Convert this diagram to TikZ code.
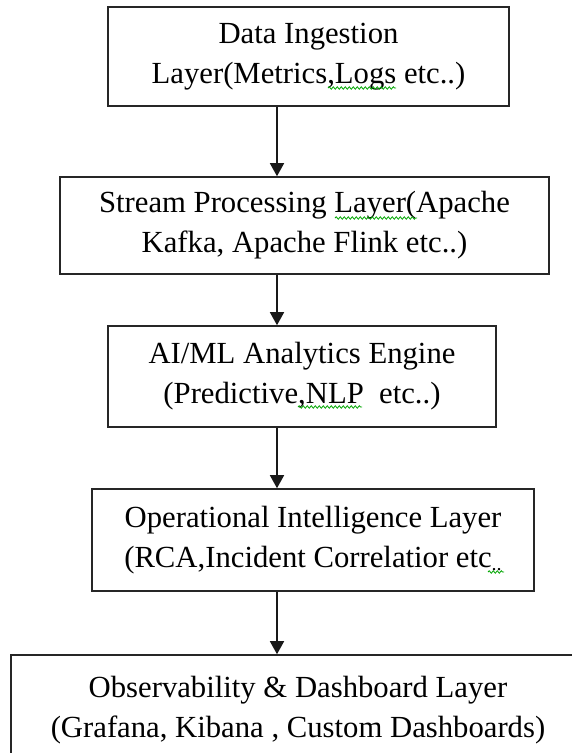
\documentclass[tikz,border=0pt]{standalone}
\usepackage{fontspec}
\setmainfont{Liberation Serif}
\usetikzlibrary{arrows.meta,decorations.pathmorphing}
\begin{document}
\begin{tikzpicture}[x=1pt,y=-1pt,
  layerbox/.style={draw=black!85, line width=1.6pt, inner sep=0pt, align=center,
     font=\fontsize{30.7}{40}\selectfont, text=black},
  flow/.style={draw=black!90, line width=1.5pt, -{Triangle[width=14pt,length=13pt]}},
  squiggle/.style={draw=green!65!black, line width=0.8pt, decorate,
     decoration={snake, segment length=4pt, amplitude=1.2pt}}]
\useasboundingbox (0,0) rectangle (572,753);
\fill[white] (0,0) rectangle (572,753);
\clip (0,0) rectangle (572,753);
\node[layerbox, minimum width=401, minimum height=99] (b1) at (308.5,56.5)
  {Data Ingestion\\Layer(Metrics,Logs etc..)};
\node[layerbox, minimum width=489, minimum height=97] (b2) at (304.5,225.5)
  {Stream Processing Layer(Apache\\Kafka, Apache Flink etc..)};
\node[layerbox, minimum width=388, minimum height=101] (b3) at (302,376.5)
  {AI/ML Analytics Engine\\(Predictive,NLP\ \ etc..)};
\node[layerbox, minimum width=442, minimum height=102] (b4) at (313,540)
  {Operational Intelligence Layer\\(RCA,Incident Correlatior etc{\fontsize{20}{20}\selectfont\raisebox{-3pt}{..}}};
\node[layerbox, minimum width=574, minimum height=110] (b5) at (298,710)
  {Observability \& Dashboard Layer\\(Grafana, Kibana , Custom Dashboards)};
\coordinate (ax) at (277,0);
\draw[flow] (b1.south -| ax) -- (b2.north -| ax);
\draw[flow] (b2.south -| ax) -- (b3.north -| ax);
\draw[flow] (b3.south -| ax) -- (b4.north -| ax);
\draw[flow] (b4.south -| ax) -- (b5.north -| ax);
\draw[squiggle] (328,88) -- (396,88);
\draw[squiggle] (335,218) -- (417,218);
\draw[squiggle] (298,407) -- (362,407);
\draw[squiggle] (488,572) -- (504,572);
\end{tikzpicture}
\end{document}
